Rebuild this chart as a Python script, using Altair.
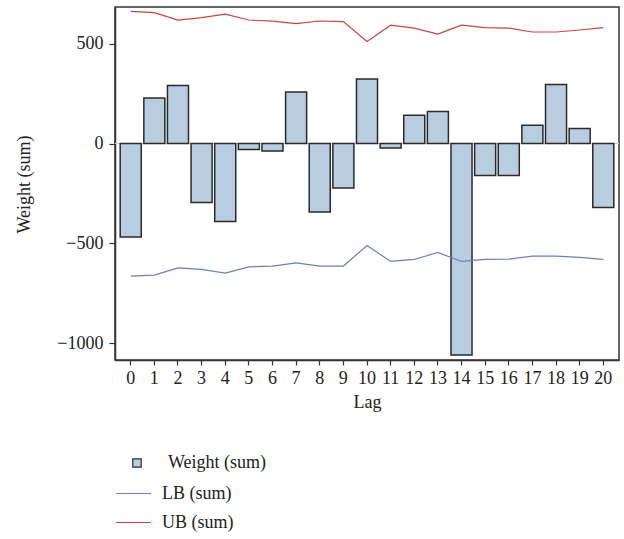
import altair as alt
import pandas as pd

lags = list(range(21))
weight = [-468, 228, 290, -295, -390, -30, -38, 258, -343, -222, 323,
          -22, 142, 160, -1058, -160, -160, 92, 295, 75, -320]
lb = [-663, -658, -622, -630, -648, -617, -613, -597, -613, -613, -510,
      -590, -580, -545, -590, -580, -578, -563, -563, -570, -580]
ub = [661, 655, 617, 630, 647, 618, 612, 600, 613, 610, 510,
      592, 577, 547, 592, 580, 577, 558, 558, 568, 580]

FONT = "Liberation Serif"

bars_df = pd.DataFrame({"Lag": lags, "Weight": weight, "s": "Weight (sum)"})
lines_df = pd.concat([
    pd.DataFrame({"Lag": lags, "v": lb, "s": "LB (sum)"}),
    pd.DataFrame({"Lag": lags, "v": ub, "s": "UB (sum)"}),
])

xenc = alt.X("Lag:O", sort=lags,
             scale=alt.Scale(paddingInner=0.11, paddingOuter=0.22),
             axis=alt.Axis(title="Lag", labelAngle=0, tickSize=5, labelPadding=4,
                           titlePadding=6))
yscale = alt.Scale(domain=[-1083, 683], nice=False, zero=False)
yaxis = alt.Axis(title="Weight (sum)", values=[-1000, -500, 0, 500], format="d", tickSize=6,
                 labelPadding=6, grid=False, titleX=-82, titleY=177, titleBaseline="bottom")

zero = alt.Chart(pd.DataFrame({"z": [0]})).mark_rule(color="#cccccc", strokeWidth=1).encode(
    y=alt.Y("z:Q", scale=yscale, axis=yaxis)
)

bars = alt.Chart(bars_df).mark_bar(stroke="#2a2a2a", strokeWidth=1.5).encode(
    x=xenc,
    y=alt.Y("Weight:Q", scale=yscale, axis=yaxis),
    fill=alt.Fill("s:N", scale=alt.Scale(domain=["Weight (sum)"], range=["#b9cde1"]),
                  legend=alt.Legend(title=None, orient="none", legendX=13, legendY=447,
                                    symbolType="square", symbolSize=70,
                                    symbolStrokeColor="#2a2a2a", symbolStrokeWidth=1.2,
                                    labelOffset=22)),
)

lines = alt.Chart(lines_df).mark_line(strokeWidth=1.2).encode(
    x=xenc,
    y=alt.Y("v:Q", scale=yscale, axis=yaxis),
    stroke=alt.Stroke("s:N",
                      scale=alt.Scale(domain=["LB (sum)", "UB (sum)"],
                                      range=["#6b80b8", "#c8463c"]),
                      legend=alt.Legend(title=None, orient="none", legendX=0, legendY=468,
                                        symbolType="stroke", symbolSize=1225,
                                        symbolStrokeWidth=1.2, labelOffset=10,
                                        rowPadding=1)),
    detail="s:N",
)

chart = alt.layer(zero, bars, lines).properties(
    width=504, height=353,
    autosize=alt.AutoSizeParams(type="none"),
    padding={"left": 115, "top": 7, "right": 5, "bottom": 179},
).configure(font=FONT).configure_view(stroke="#333333", strokeWidth=1.5).configure_axis(
    labelFont=FONT, titleFont=FONT, labelFontSize=18, titleFontSize=18,
    labelColor="#222222", titleColor="#222222", titleFontWeight="normal",
    domainColor="#333333", tickColor="#333333", domainWidth=1.5, tickWidth=1.2,
).configure_legend(
    labelFont=FONT, labelFontSize=18, labelColor="#222222",
)

chart.save("out.html", embed_options={"renderer": "svg", "actions": False})
